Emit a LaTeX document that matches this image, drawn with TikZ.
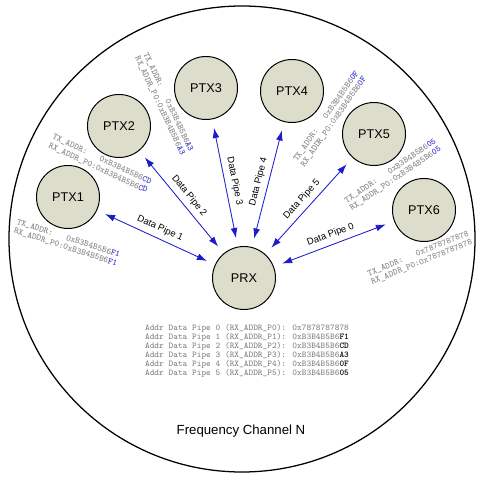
\documentclass[tikz,border=0pt]{standalone}
\usepackage{fontspec}
\setmainfont{Liberation Sans}
\usepackage{tikz}
\usetikzlibrary{arrows.meta}
\definecolor{nodefill}{HTML}{DDDDCB}
\definecolor{pipeblue}{HTML}{1C1CC8}
\definecolor{tailblue}{HTML}{3A3AD0}
\definecolor{addrgray}{HTML}{7F7F7F}
\newcommand{\tailhex}[1]{{\bfseries\color{tailblue}#1}}
\newcommand{\tailbold}[1]{{\bfseries\color{black}#1}}

\begin{document}
\begin{tikzpicture}[
    x=0.025cm, y=0.025cm,
    station/.style={circle, draw=black, line width=0.7pt, fill=nodefill, minimum size=1.575cm, inner sep=0pt, font=\fontsize{9}{11}\selectfont},
    pipe/.style={draw=pipeblue, line width=0.6pt, {Latex[length=2.5mm,width=1.7mm]}-{Latex[length=2.5mm,width=1.7mm]}, shorten <=0.22cm, shorten >=0.22cm},
    pipelabel/.style={sloped, above=2pt, midway, inner sep=1.5pt, font=\fontsize{6.7}{8}\selectfont},
    addr/.style={align=left, inner sep=0pt, text=addrgray, font=\ttfamily\fontsize{6.3}{6.5}\selectfont},
]
\useasboundingbox[fill=white] (0,0) rectangle (480,480);

% Frequency channel with one receiver and six transmitters
\draw[line width=0.9pt] (242,241) circle [radius=233];
\node[font=\fontsize{9.4}{11}\selectfont] (channelname) at (241,49) {Frequency Channel N};

\node[station] (ptx1) at (68,283) {PTX1};
\node[station] (ptx2) at (119,354) {PTX2};
\node[station] (ptx3) at (206,392) {PTX3};
\node[station] (ptx4) at (292,389) {PTX4};
\node[station] (ptx5) at (374,346) {PTX5};
\node[station] (ptx6) at (424,270) {PTX6};
\node[station] (prx) at (244,202) {PRX};

\draw[pipe] (ptx1) -- node[pipelabel] {Data Pipe 1} (prx);
\draw[pipe] (ptx2) -- node[pipelabel] {Data Pipe 2} (prx);
\draw[pipe] (ptx3) -- node[pipelabel] {Data Pipe 3} (prx);
\draw[pipe] (prx) -- node[pipelabel] {Data Pipe 4} (ptx4);
\draw[pipe] (prx) -- node[pipelabel] {Data Pipe 5} (ptx5);
\draw[pipe] (prx) -- node[pipelabel] {Data Pipe 0} (ptx6);

\node[addr, rotate=-18] (addr1) at (67,237) {TX\_ADDR:\phantom{000}0xB3B4B5B6\tailhex{F1}\\RX\_ADDR\_P0:0xB3B4B5B6\tailhex{F1}};
\node[addr, rotate=-25] (addr2) at (100,316) {TX\_ADDR:\phantom{000}0xB3B4B5B6\tailhex{CD}\\RX\_ADDR\_P0:0xB3B4B5B6\tailhex{CD}};
\node[addr, rotate=-65] (addr3) at (164,376) {TX\_ADDR:\phantom{000}0xB3B4B5B6\tailhex{A3}\\RX\_ADDR\_P0:0xB3B4B5B6\tailhex{A3}};
\node[addr, rotate=55] (addr4) at (330,361) {TX\_ADDR:\phantom{000}0xB3B4B5B6\tailhex{0F}\\RX\_ADDR\_P0:0xB3B4B5B6\tailhex{0F}};
\node[addr, rotate=34] (addr5) at (393,305) {TX\_ADDR:\phantom{000}0xB3B4B5B6\tailhex{05}\\RX\_ADDR\_P0:0xB3B4B5B6\tailhex{05}};
\node[addr, rotate=22] (addr6) at (420,222) {TX\_ADDR:\phantom{000}0x7878787878\\RX\_ADDR\_P0:0x7878787878};

\node[addr] (pipetable) at (247,129) {Addr Data Pipe 0 (RX\_ADDR\_P0): 0x7878787878\\
Addr Data Pipe 1 (RX\_ADDR\_P1): 0xB3B4B5B6\tailbold{F1}\\
Addr Data Pipe 2 (RX\_ADDR\_P2): 0xB3B4B5B6\tailbold{CD}\\
Addr Data Pipe 3 (RX\_ADDR\_P3): 0xB3B4B5B6\tailbold{A3}\\
Addr Data Pipe 4 (RX\_ADDR\_P4): 0xB3B4B5B6\tailbold{0F}\\
Addr Data Pipe 5 (RX\_ADDR\_P5): 0xB3B4B5B6\tailbold{05}};

\end{tikzpicture}
\end{document}
